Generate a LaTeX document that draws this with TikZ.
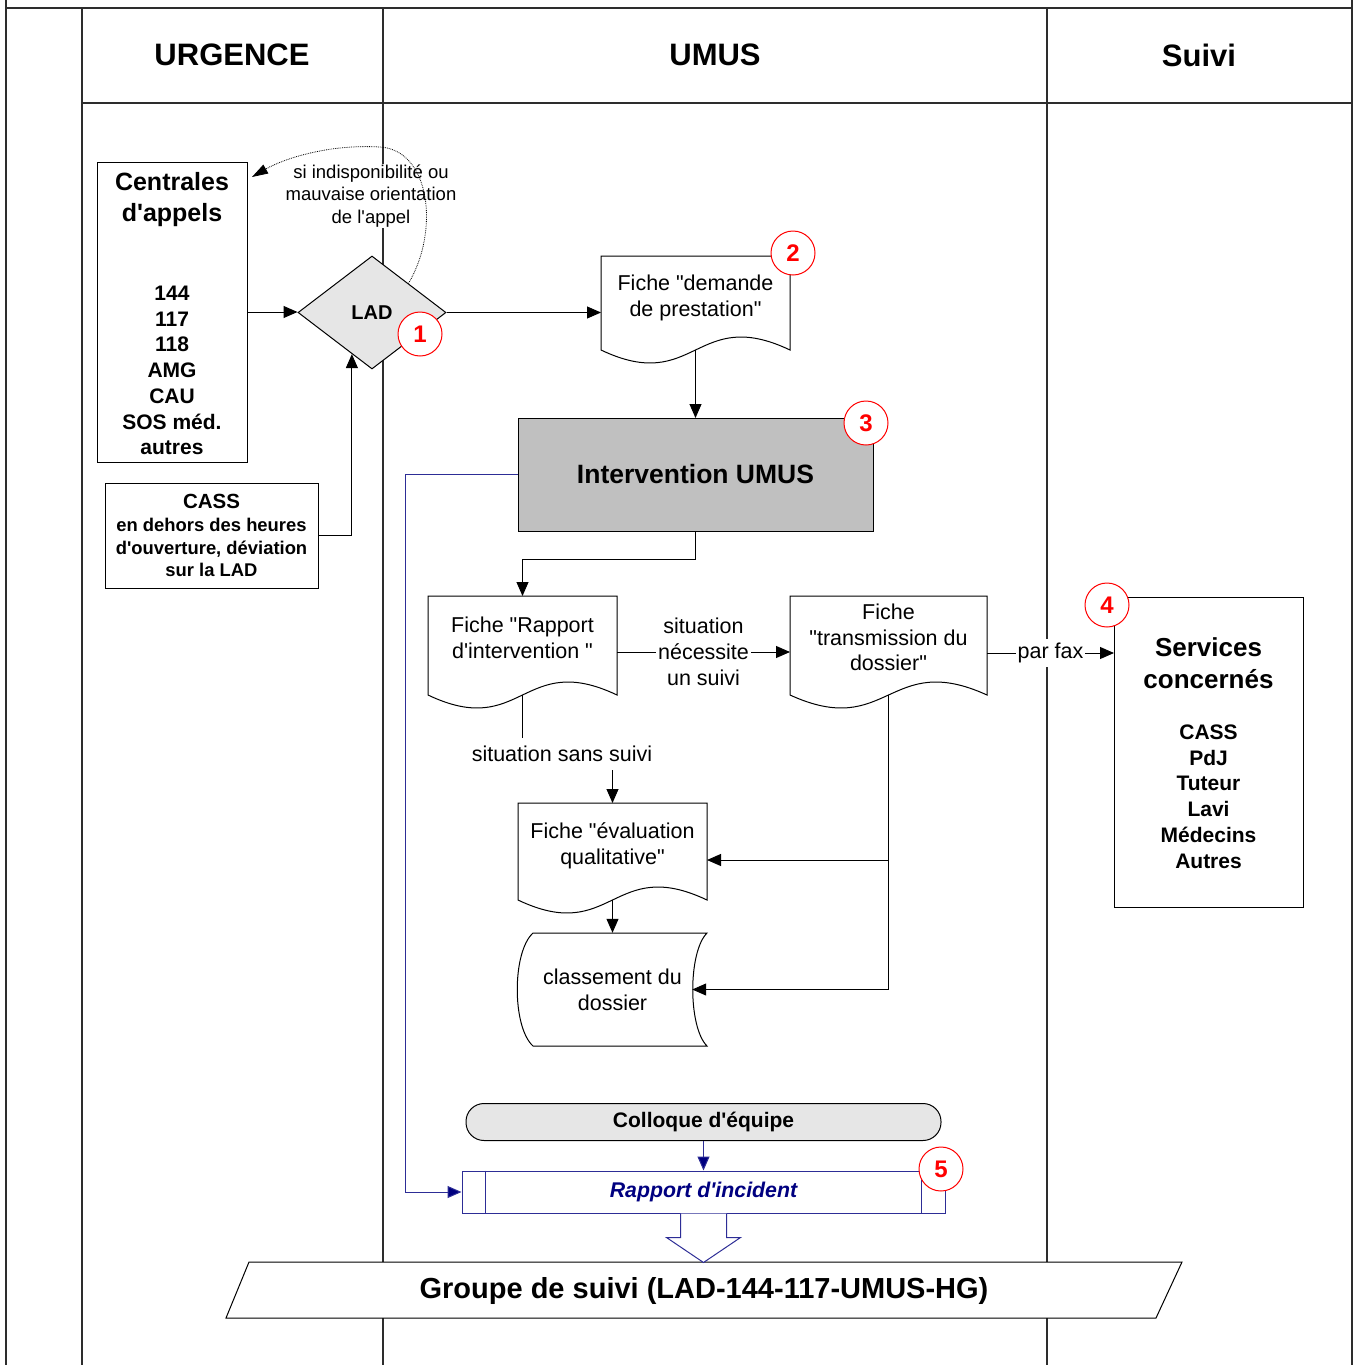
\documentclass[tikz,border=0pt]{standalone}
\usepackage{fontspec}
\setmainfont{Liberation Sans}[Ligatures=TeXOff]
\usetikzlibrary{arrows.meta,shapes.geometric,calc}
\newcommand\fs[2]{\fontsize{#1}{#2}\selectfont}
\definecolor{lgray}{RGB}{230,230,230}
\definecolor{mgray}{RGB}{192,192,192}
\definecolor{navyc}{RGB}{0,0,128}
\definecolor{bluel}{RGB}{45,45,150}
\definecolor{lanec}{RGB}{45,45,45}
\tikzset{
  lane/.style={draw=lanec, line width=1.3pt},
  arr/.style={line width=1pt, -{Triangle[length=14pt,width=12pt]}},
  narr/.style={draw=bluel, line width=1pt, -{Triangle[length=14pt,width=12pt,fill=navyc]}},
  dotc/.style={line width=0.8pt, densely dotted, -{Triangle[length=16pt,width=10pt]}},
  box/.style={draw, line width=1pt, inner sep=0pt, outer sep=0pt},
  txt/.style={font=\fs{21.5}{25.8}, align=center, inner sep=0pt},
  num/.style={circle, draw=red, line width=1pt, fill=white, text=red, font=\bfseries\fs{24}{24}, minimum size=44pt, inner sep=0pt},
  hdr/.style={font=\bfseries\fs{31}{36}, inner sep=0pt}
}
% document shape: name, left, top, width, height, text y, text
\newcommand{\docnode}[7]{%
  \draw[line width=1pt, fill=white] (#2,#3) -- (#2,#3+#5) .. controls (#2+#4/2,#3+#5+45) and (#2+#4/2,#3+#5-45) .. (#2+#4,#3+#5) -- (#2+#4,#3) -- cycle;
  \node[minimum width=#4pt, minimum height=#5pt, inner sep=0pt, outer sep=0pt] (#1) at (#2+#4/2,#3+#5/2) {};
  \node[txt] (#1t) at (#2+#4/2,#6) {#7};}
\begin{document}
\begin{tikzpicture}[x=1pt,y=-1pt]
\useasboundingbox (0,0) rectangle (1358,1365);
% lanes
\draw[lane] (6,0) -- (6,1365) (1352,0) -- (1352,1365) (6,8) -- (1352,8)
  (82,8) -- (82,1365) (383,8) -- (383,1365) (1047,8) -- (1047,1365) (82,103) -- (1352,103);
\node[hdr] (h1) at (232,55) {URGENCE};
\node[hdr] (h2) at (715,55) {UMUS};
\node[hdr] (h3) at (1199,55) {Suivi};

% URGENCE lane
\node[box, fill=white, minimum width=150pt, minimum height=300pt] (cent) at (172,312) {};
\node[font=\bfseries\fs{25}{31.5}, align=center, inner sep=0pt] (centt) at (172,199.5) {Centrales\\d'appels};
\node[font=\bfseries\fs{21}{25.7}, align=center, inner sep=0pt] (centl) at (172,370.5) {144\\117\\118\\AMG\\CAU\\SOS méd.\\autres};
\node[box, fill=white, minimum width=213pt, minimum height=105pt, align=center, font=\bfseries\fs{18.4}{22.6}] (cass) at (211.5,535.5) {{\fs{20.5}{24}CASS}\\[1pt]en dehors des heures\\d'ouverture, déviation\\sur la LAD};

\node[fill=white, font=\fs{18.5}{22.5}, align=center, inner sep=1pt] (lbl1) at (371,196) {si indisponibilité ou\\mauvaise orientation\\de l'appel};
\node[diamond, draw, line width=1pt, fill=lgray, minimum width=148pt, minimum height=113pt, inner sep=0pt, font=\bfseries\fs{20}{24}] (lad) at (372,312.5) {LAD};
\draw[dotc] ($(lad.north)!0.49!(lad.east)$) .. controls (440,230) and (430,150) .. (380,147) .. controls (330,144) and (285,158) .. ([xshift=5pt,yshift=-15pt]cent.north east);

% UMUS lane
\docnode{dem}{601}{256}{189}{94}{298}{Fiche "demande\\de prestation"}
\node[box, fill=mgray, minimum width=355pt, minimum height=113pt, font=\bfseries\fs{26.5}{30}] (int) at (695.5,474.5) {Intervention UMUS};
\docnode{rap}{428}{596}{189}{99}{638}{Fiche "Rapport\\d'intervention "}
\docnode{trans}{790}{596}{197}{99}{637.5}{Fiche\\"transmission du\\dossier"}
\docnode{eval}{518}{803}{189}{97}{845.5}{Fiche "évaluation\\qualitative"}
\draw[line width=1pt, fill=white] (533,933) -- (707,933) .. controls (688,952) and (688,1027) .. (707,1046) -- (533,1046) .. controls (512,1027) and (512,952) .. (533,933) -- cycle;
\node[minimum width=189pt, minimum height=113pt, inner sep=0pt] (cls) at (612.5,989.5) {};
\node[txt] (clst) at (612.5,989.5) {classement du\\dossier};
\coordinate (clsin) at ([xshift=-15pt]cls.east);

\node[draw, line width=1pt, fill=lgray, rounded corners=18pt, minimum width=475pt, minimum height=37pt, inner sep=0pt, font=\bfseries\fs{21}{24}] (coll) at (703.5,1122) {\raisebox{-1.5pt}{Colloque d'équipe}};
\node[draw=bluel, line width=1pt, fill=white, minimum width=483pt, minimum height=42pt, inner sep=0pt, text=navyc, font=\bfseries\itshape\fs{21.3}{24}] (rinc) at (703.5,1192) {\raisebox{-1.5pt}{Rapport d'incident}};
\draw[bluel, line width=1pt] ([xshift=24pt]rinc.north west) -- ([xshift=24pt]rinc.south west)
  ([xshift=-24pt]rinc.north east) -- ([xshift=-24pt]rinc.south east);

% Suivi lane
\node[box, fill=white, minimum width=189pt, minimum height=310pt] (svc) at (1208.5,752) {};
\node[font=\bfseries\fs{26}{32}, align=center, inner sep=0pt] (svct) at (1208.5,663) {Services\\concernés};
\node[font=\bfseries\fs{21}{25.8}, align=center, inner sep=0pt] (svcl) at (1208.5,796.5) {CASS\\PdJ\\Tuteur\\Lavi\\Médecins\\Autres};

% bottom group
\draw[line width=1pt, fill=white] (226,1318) -- (249,1262) -- (1182,1262) -- (1156,1318) -- cycle;
\node[font=\bfseries\fs{29}{34}, inner sep=0pt] (grp) at (704,1291) {Groupe de suivi (LAD-144-117-UMUS-HG)};
\draw[bluel, line width=1pt, fill=white] ([xshift=-23pt]rinc.south) -- ++(0,24) -- ++(-14,0) -- ([yshift=-49pt]rinc.south) -- ++(37,-25) -- ++(-14,0) -- ([xshift=23pt]rinc.south);

% connectors
\draw[arr] (cent.east) -- (cent.east -| lad.west);
\coordinate (ladin) at ($(lad.west)!0.73!(lad.south)$);
\draw[arr] (cass.east) -| (ladin);
\draw[arr] (lad.east) -- (lad.east -| dem.west);
\draw[arr] (dem.south) -- (int.north);
\draw[narr] (int.west) -- ++(-113,0) |- (rinc.west);
\draw[arr] (int.south) -- ++(0,28) -| (rap.north);
\draw[arr] ([yshift=-6.5pt]rap.east) -- ([yshift=-6.5pt]rap.east -| trans.west)
  node[midway, fill=white, txt, inner xsep=2pt] (sit) {situation\\nécessite\\un suivi};
\draw[arr] ([yshift=-7.5pt]trans.east) -- ([yshift=-7.5pt]trans.east -| svc.west)
  node[midway, fill=white, txt, inner xsep=2pt, inner ysep=4pt] (fax) {par fax};
\coordinate (ssc) at (562,754);
\draw[arr] (rap.south) |- (ssc) -| (eval.north);
\node[txt, fill=white, inner xsep=2pt, inner ysep=8pt] (sans) at (ssc) {situation sans suivi};
\coordinate (evin) at ([yshift=-8.5pt]eval.east);
\draw[arr] (trans.south) |- (clsin);
\draw[arr] (trans.south |- evin) -- (evin);
\draw[arr] (eval.south) -- (cls.north);
\draw[narr] (coll.south) -- (rinc.north);

% numbers
\node[num] (n1) at (420,334) {1};
\node[num] (n2) at (793,253) {2};
\node[num] (n3) at (866,423) {3};
\node[num] (n4) at (1107,605) {4};
\node[num] (n5) at (941,1169) {5};
\end{tikzpicture}
\end{document}
